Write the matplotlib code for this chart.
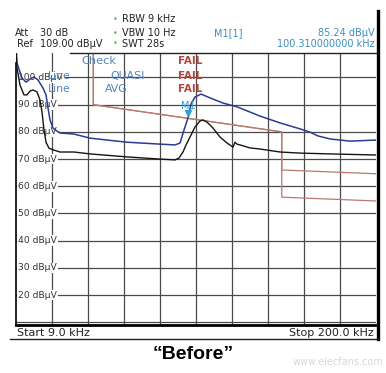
import matplotlib
matplotlib.use("Agg")
import matplotlib.pyplot as plt
import matplotlib.transforms as mtransforms
from matplotlib.lines import Line2D

# Datos (frecuencia en kHz, nivel en dBµV)
blue_f = [9.0, 9.53, 12.18, 14.31, 16.43, 18.55, 20.67, 23.33, 24.92, 25.98, 27.04,
          28.63, 30.75, 32.35, 39.77, 48.26, 67.90, 85.41, 93.37, 96.02, 98.14,
          100.31, 101.85, 103.97, 107.16, 111.94, 118.83, 126.26, 133.16, 138.47,
          149.08, 159.70, 165.0, 169.24, 175.6, 186.22, 200.0]
blue_db = [112.0, 105.3, 99.8, 98.3, 99.4, 100.2, 99.1, 96.1, 93.6, 88.8, 84.4,
           81.4, 80.3, 79.6, 79.2, 77.7, 76.2, 75.5, 75.2, 75.9, 80.7,
           85.24, 90.2, 92.8, 93.9, 92.5, 90.6, 89.2, 87.3, 85.8,
           83.3, 81.1, 79.9, 78.5, 77.4, 76.6, 77.0]

black_f = [9.0, 9.53, 11.12, 13.24, 14.84, 16.43, 18.02, 20.14, 21.73, 22.80, 23.86,
           24.92, 26.51, 29.16, 32.35, 39.77, 48.26, 67.90, 85.41, 93.37, 95.49,
           97.61, 99.20, 101.32, 103.97, 106.63, 108.22, 110.34, 113.53, 117.24,
           120.96, 124.14, 125.2, 126.26, 127.86, 133.16, 138.47, 149.08, 159.70,
           175.6, 200.0]
black_db = [110.0, 103.5, 97.2, 93.6, 93.6, 95.0, 95.4, 94.7, 91.7, 87.3, 80.7,
            76.2, 74.0, 73.3, 72.6, 72.6, 71.9, 70.8, 70.0, 69.7, 70.4,
            72.6, 75.2, 78.1, 81.8, 84.0, 84.4, 83.6, 81.4, 78.1,
            75.9, 74.4, 76.2, 75.5, 75.2, 74.1, 73.7, 72.6, 72.2,
            71.9, 71.5]

# Líneas límite (cuasi-pico y promedio)
qp_f = [9.0, 50.0, 50.0, 150.0, 150.0, 200.0]
qp_db = [110.0, 110.0, 90.0, 80.0, 66.0, 64.6]
avg_f = [9.0, 50.0, 50.0, 150.0, 150.0, 200.0]
avg_db = [110.0, 110.0, 90.0, 80.0, 56.0, 54.6]

marker_f = 100.31
marker_db = 85.24

f_start, f_stop = 9.0, 200.0
ref_level = 109.0
grid_levels = [10, 20, 30, 40, 50, 60, 70, 80, 90, 100]
label_levels = [20, 30, 40, 50, 60, 70, 80, 90, 100]

W, H = 386, 373


def px(x, y):
    # píxeles de la imagen -> fracción de la figura
    return x / W, 1 - y / H


fig = plt.figure(figsize=(W / 100, H / 100), dpi=100)
ax = fig.add_axes([16 / W, 1 - 325 / H, 360 / W, 272 / H])
ax.set_xlim(f_start, f_stop)
ax.set_ylim(ref_level - 100, ref_level)
ax.set_xticks([])
ax.set_yticks([])

grid_c = "#4a4a4a"
step = (f_stop - f_start) / 10
for i in range(1, 10):
    ax.axvline(f_start + step * i, color=grid_c, lw=0.9, zorder=1)
for v in grid_levels:
    ax.axhline(v, color=grid_c, lw=0.9, zorder=1)

ax.spines["top"].set_visible(False)
ax.spines["right"].set_visible(False)
ax.spines["left"].set_linewidth(1.2)
ax.spines["left"].set_bounds(9, 105.3)
ax.spines["bottom"].set_linewidth(2.0)

# Etiquetas del eje Y dentro de la rejilla
for v in label_levels:
    ax.text(0.006, v, f"{v} dBµV", transform=ax.get_yaxis_transform(),
            fontsize=6.6, color="#333333", va="center", ha="left", zorder=2,
            bbox=dict(facecolor="white", edgecolor="none", pad=0.6))

# Líneas límite y trazas
ax.plot(qp_f, qp_db, color="#b97a6e", lw=0.9, zorder=3)
ax.plot(avg_f, avg_db, color="#b97a6e", lw=0.9, zorder=3)
ax.plot(blue_f, blue_db, color="#2b3c93", lw=1.1, zorder=4)
ax.plot(black_f, black_db, color="#151515", lw=1.0, zorder=4)

# Marcador M1
tr = mtransforms.offset_copy(ax.transData, fig=fig, x=0, y=3, units="points")
ax.plot(marker_f, marker_db, "v", ms=5, color="#2fa0d0", transform=tr, zorder=6)
ax.annotate("M1", xy=(marker_f, marker_db), xytext=(0, 8.5), textcoords="offset points",
            ha="center", va="center", fontsize=7, color="#2fa0d0", zorder=6)

# Tabla de comprobación de límites
blue_t = "#4f85bd"
red_t = "#b5473f"
fig.text(*px(99, 61), "Check", fontsize=8.2, color=blue_t, ha="center", va="center")
fig.text(*px(59, 76), "Line", fontsize=7.8, color=blue_t, ha="center", va="center")
fig.text(*px(59, 89), "Line", fontsize=7.8, color=blue_t, ha="center", va="center")
fig.text(*px(128, 76), "QUASI", fontsize=7.8, color=blue_t, ha="center", va="center")
fig.text(*px(116, 89), "AVG", fontsize=7.8, color=blue_t, ha="center", va="center")
for yy in (61, 76, 89):
    fig.text(*px(190, yy), "FAIL", fontsize=7.5, color=red_t, ha="center", va="center",
             fontweight="bold")

# Cabecera
hdr = dict(fontsize=7, color="#222222", va="center")
fig.text(*px(15, 33), "Att", **hdr)
fig.text(*px(40, 33), "30 dB", **hdr)
fig.text(*px(17, 44), "Ref", **hdr)
fig.text(*px(40, 44), "109.00 dBµV", **hdr)
for yy, s in ((19, "RBW 9 kHz"), (33, "VBW 10 Hz"), (44, "SWT 28s")):
    fig.text(*px(115, yy), "•", fontsize=6, color="#5cb85c", ha="center", va="center")
    fig.text(*px(122, yy), s, **hdr)
teal = "#3a8fbf"
fig.text(*px(214, 33), "M1[1]", fontsize=7, color=teal, va="center")
fig.text(*px(375, 33), "85.24 dBµV", fontsize=7, color=teal, va="center", ha="right")
fig.text(*px(375, 44), "100.310000000 kHz", fontsize=7, color=teal, va="center", ha="right")

# Marcos
fig.add_artist(Line2D([70 / W, 378 / W], [1 - 53 / H, 1 - 53 / H], color="#222222", lw=1.0))
fig.add_artist(Line2D([378 / W, 378 / W], [1 - 11 / H, 1 - 339 / H], color="black", lw=2.4))
fig.add_artist(Line2D([10 / W, 378 / W], [1 - 339 / H, 1 - 339 / H], color="#222222", lw=1.0))

# Pie
fig.text(*px(17, 333), "Start 9.0 kHz", fontsize=8, color="#222222", va="center")
fig.text(*px(374, 333), "Stop 200.0 kHz", fontsize=8, color="#222222", va="center", ha="right")
fig.text(*px(193, 359), "\u201cBefore\u201d", fontsize=14, fontweight="bold",
         family="Liberation Sans", ha="center", va="baseline", color="black")
fig.text(*px(338, 362), "www.elecfans.com", fontsize=7, color="#d8d8d8", ha="center", va="center")

fig.savefig("out.png", dpi=100)
